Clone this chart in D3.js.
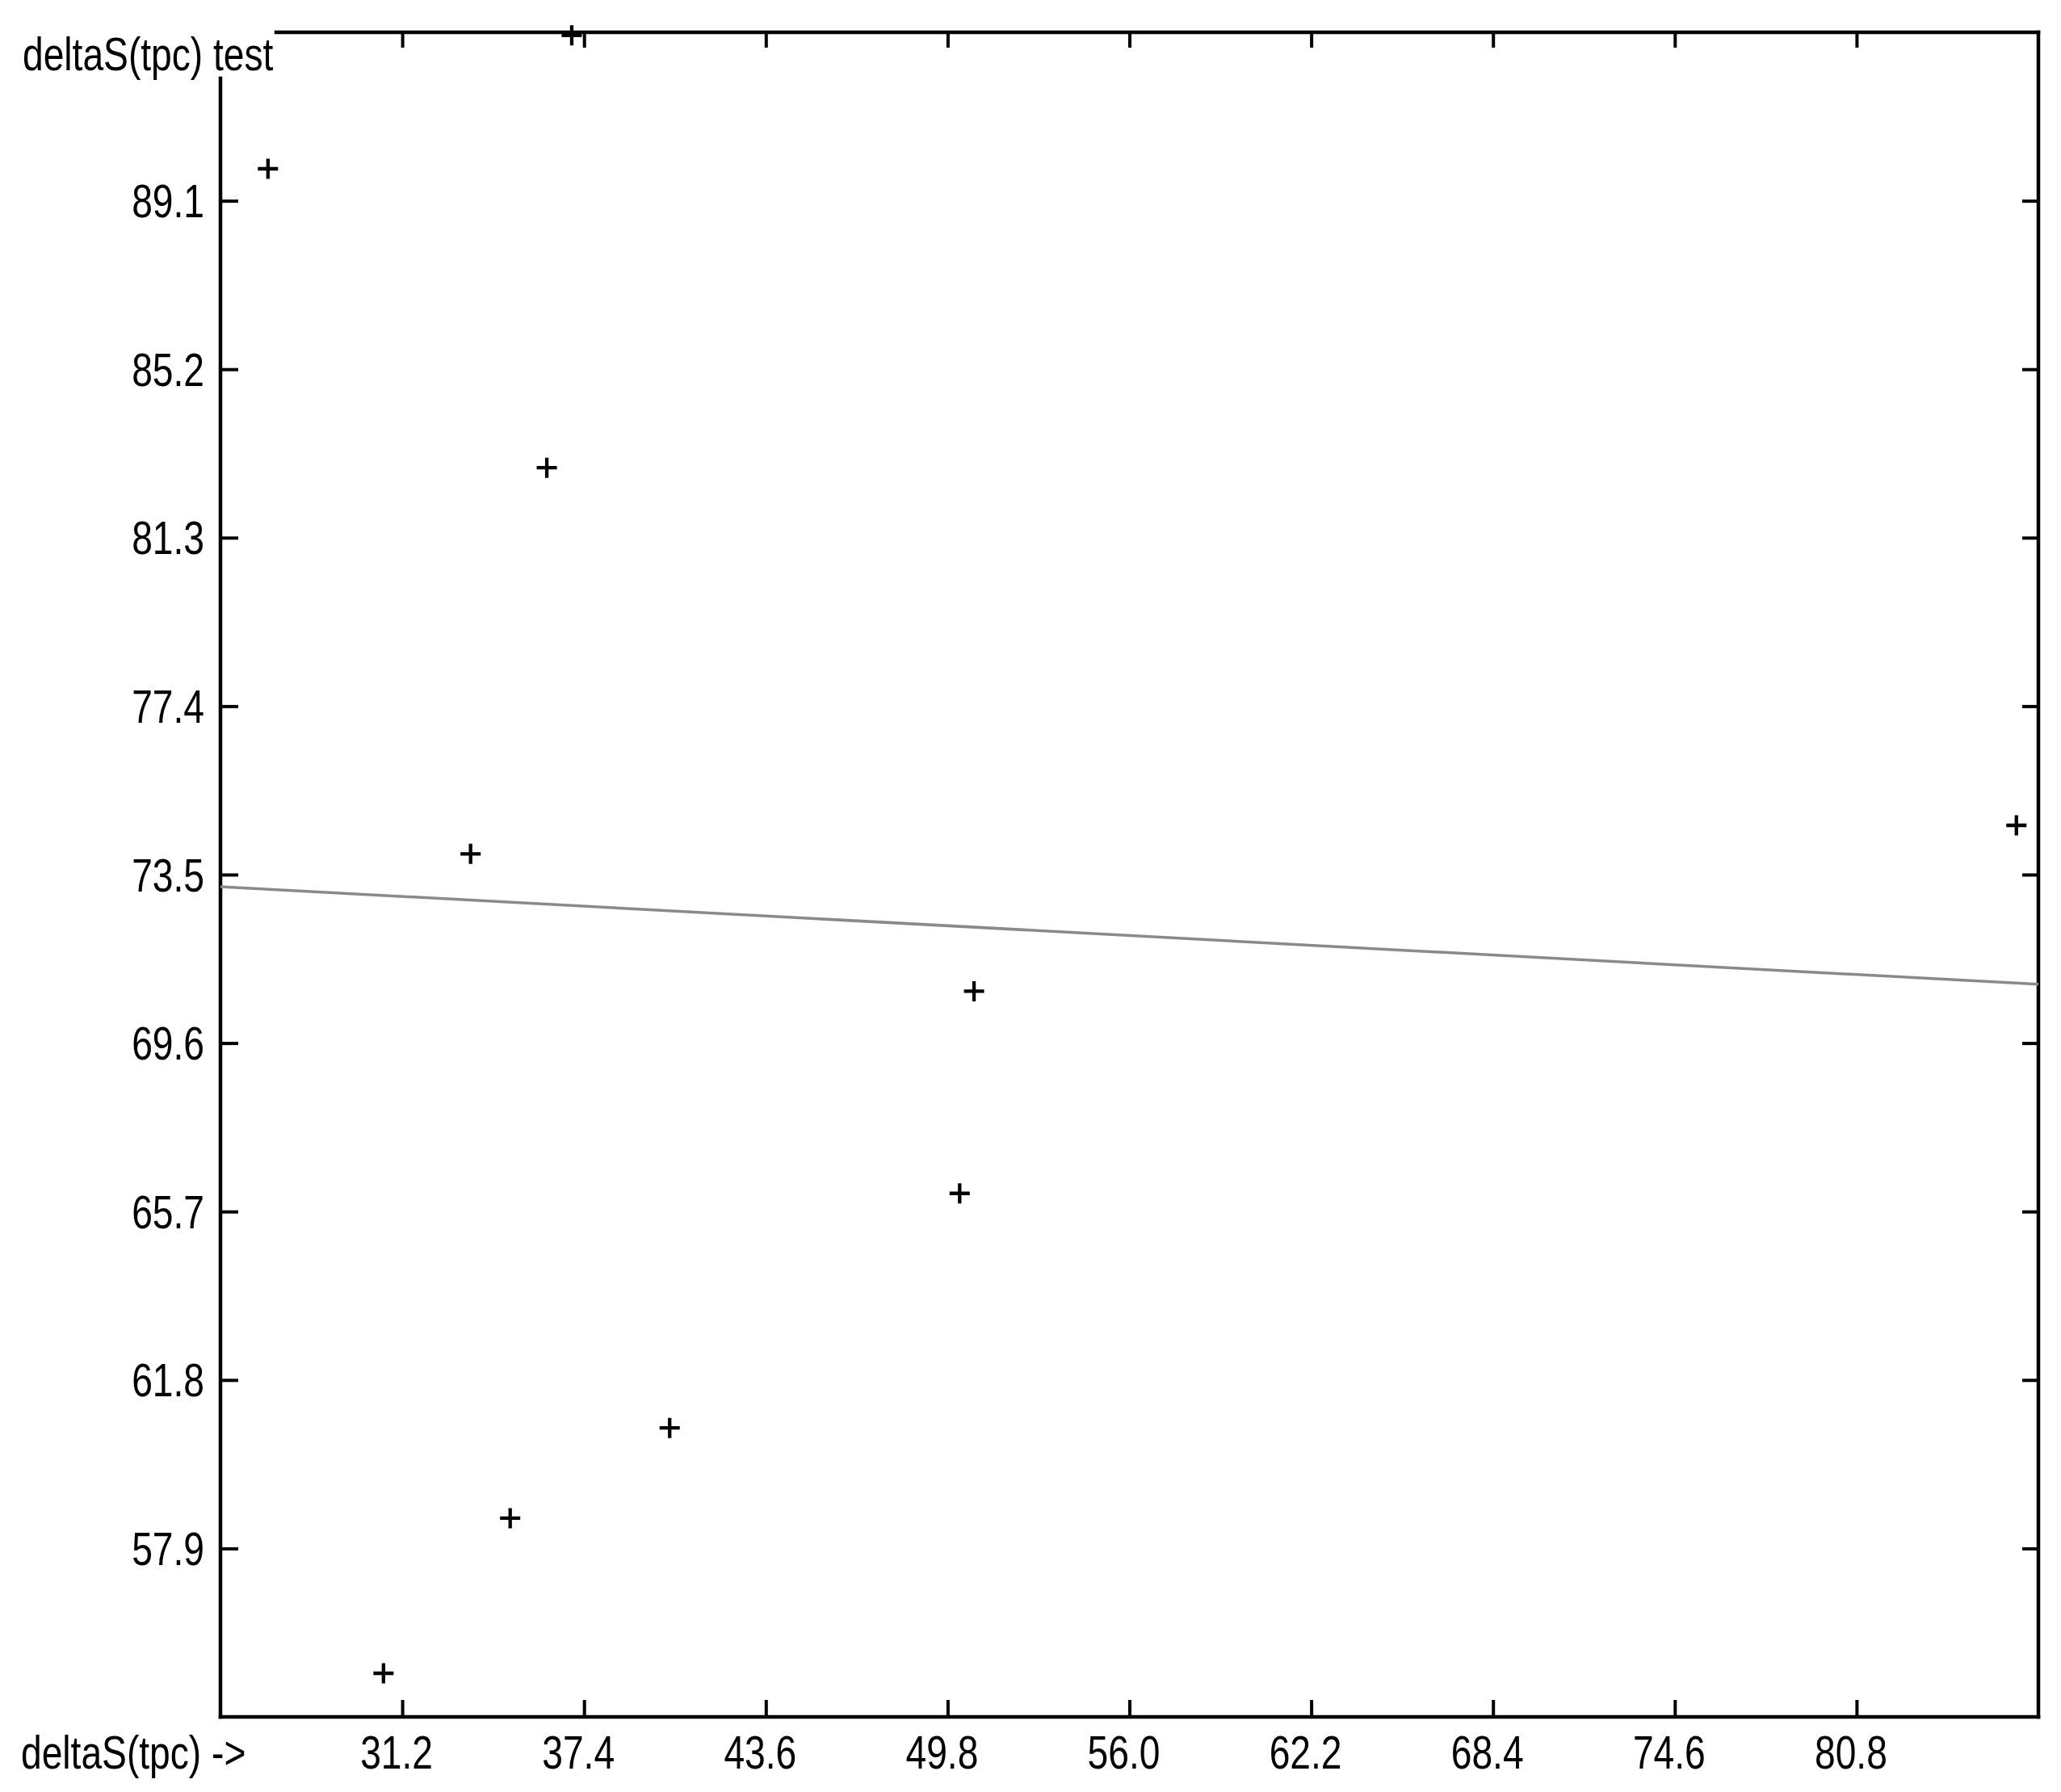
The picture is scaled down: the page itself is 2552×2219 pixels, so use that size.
<!DOCTYPE html>
<html>
<head>
<meta charset="utf-8">
<script src="https://cdn.jsdelivr.net/npm/d3@7"></script>
<style>
  html, body { margin: 0; padding: 0; background: #fff; }
  svg { display: block; }
  text { font-family: "Liberation Sans", Arial, sans-serif; fill: #000; }
</style>
</head>
<body>
<svg id="chart" width="2552" height="2219"></svg>
<script>
// ---- data ----
const xValues = [26.62, 36.98, 36.13, 33.53, 86.25, 50.70, 50.21, 40.32, 34.88, 30.56];
const yValues = [89.84, 92.93, 82.92, 73.98, 74.64, 70.80, 66.12, 60.69, 58.60, 55.01];
const fitLineX = [25.0, 87.0];
const fitLineY = [73.22, 70.96];
const xTickValues = [31.2, 37.4, 43.6, 49.8, 56.0, 62.2, 68.4, 74.6, 80.8];
const yTickValues = [57.9, 61.8, 65.7, 69.6, 73.5, 77.4, 81.3, 85.2, 89.1];
const xDomain = [25.0, 87.0];
const yDomain = [54.0, 93.0];
const titleText = "deltaS(tpc) test";
const xAxisText = "deltaS(tpc) ->";

// ---- layout ----
const W = 2552, H = 2219;
const plot = { left: 273, right: 2524, top: 40, bottom: 2126 };
const leftAxisStart = 97;   // left frame line starts below the title
const topAxisStart = 342;   // top frame line starts after the title
const squeeze = 0.81;       // condensed font look
const fontSize = 57;

const svg = d3.select("#chart");
svg.append("rect").attr("width", W).attr("height", H).attr("fill", "#fff");

const x = d3.scaleLinear().domain(xDomain).range([plot.left, plot.right]);
const y = d3.scaleLinear().domain(yDomain).range([plot.bottom, plot.top]);

// ---- axes ticks via d3 axes (domain hidden; frame drawn separately) ----
const tickW = 4;
function styleAxis(g) {
  g.select(".domain").remove();
  g.selectAll(".tick line").attr("stroke", "#000").attr("stroke-width", tickW);
  g.selectAll(".tick text").remove();
}
svg.append("g").attr("transform", `translate(0,${plot.bottom})`)
  .call(d3.axisBottom(x).tickValues(xTickValues).tickSize(-21).tickFormat(""))
  .call(styleAxis);
svg.append("g").attr("transform", `translate(0,${plot.top})`)
  .call(d3.axisTop(x).tickValues(xTickValues).tickSize(-19).tickFormat(""))
  .call(styleAxis);
svg.append("g").attr("transform", `translate(${plot.left},0)`)
  .call(d3.axisLeft(y).tickValues(yTickValues).tickSize(-22).tickFormat(""))
  .call(styleAxis);
svg.append("g").attr("transform", `translate(${plot.right},0)`)
  .call(d3.axisRight(y).tickValues(yTickValues).tickSize(-20).tickFormat(""))
  .call(styleAxis);

// ---- frame ----
const frame = svg.append("g").attr("stroke", "#000").attr("stroke-width", 4.5).attr("stroke-linecap", "square");
frame.append("line").attr("x1", plot.left).attr("x2", plot.right).attr("y1", plot.bottom).attr("y2", plot.bottom);
frame.append("line").attr("x1", plot.right).attr("x2", plot.right).attr("y1", plot.top).attr("y2", plot.bottom);
frame.append("line").attr("x1", topAxisStart).attr("x2", plot.right).attr("y1", plot.top).attr("y2", plot.top);
frame.append("line").attr("x1", plot.left).attr("x2", plot.left).attr("y1", leftAxisStart).attr("y2", plot.bottom);

// ---- regression line ----
const lineData = fitLineX.map((v, i) => [v, fitLineY[i]]);
svg.append("path")
  .datum(lineData)
  .attr("fill", "none")
  .attr("stroke", "#8a8a8a")
  .attr("stroke-width", 3.5)
  .attr("d", d3.line().x(d => x(d[0])).y(d => y(d[1])));

// ---- point markers (+) ----
const pts = xValues.map((v, i) => ({ x: v, y: yValues[i] }));
const arm = 12.5;
svg.append("g").selectAll("path").data(pts).join("path")
  .attr("fill", "none")
  .attr("stroke", "#000")
  .attr("stroke-width", 4.3)
  .attr("d", d => {
    const cx = x(d.x), cy = y(d.y);
    return `M${cx - arm},${cy}H${cx + arm}M${cx},${cy - arm}V${cy + arm}`;
  });

// ---- tick labels ----
svg.append("g").selectAll("text").data(xTickValues).join("text")
  .attr("text-anchor", "middle")
  .attr("font-size", fontSize)
  .attr("transform", d => `translate(${x(d) - 7},2190) scale(${squeeze},1)`)
  .text(d => d.toFixed(1));

svg.append("g").selectAll("text").data(yTickValues).join("text")
  .attr("text-anchor", "end")
  .attr("font-size", fontSize)
  .attr("transform", d => `translate(253,${y(d) + 20.5}) scale(${squeeze},1)`)
  .text(d => d.toFixed(1));

// ---- titles ----
svg.append("text")
  .attr("font-size", fontSize)
  .attr("transform", `translate(28,87) scale(${squeeze},1)`)
  .text(titleText);
svg.append("text")
  .attr("font-size", fontSize)
  .attr("transform", `translate(26,2190) scale(${squeeze},1)`)
  .text(xAxisText);
</script>
</body>
</html>
